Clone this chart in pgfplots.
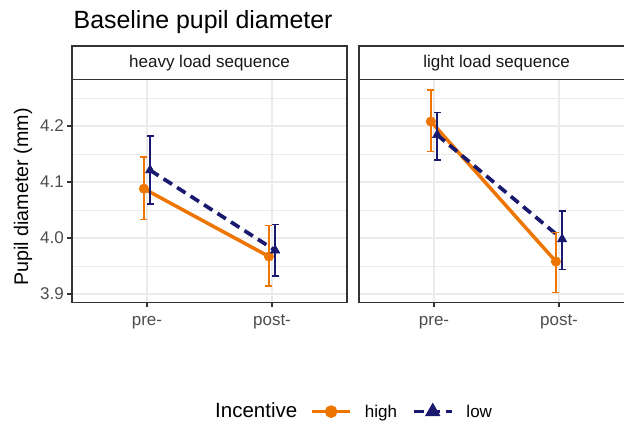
\documentclass[border=0pt]{standalone}
\usepackage{fontspec}
\setmainfont{Liberation Sans}
\usepackage{pgfplots}
\pgfplotsset{compat=1.18}

\definecolor{hiorange}{HTML}{EE7600}
\definecolor{lonavy}{HTML}{191970}
\definecolor{gridgray}{HTML}{EBEBEB}
\definecolor{bordergray}{HTML}{333333}
\definecolor{ticklab}{HTML}{4D4D4D}

\pgfplotsset{
  panel/.style={
    scale only axis, width=275pt, height=222.9pt,
    anchor=south west,
    xmin=0.4, xmax=2.6, ymin=3.885, ymax=4.283,
    xtick={1,2}, xticklabels={pre-,post-},
    ytick={3.9,4.0,4.1,4.2},
    minor ytick={3.85,3.95,4.05,4.15,4.25},
    grid=both,
    major grid style={draw=gridgray, line width=1.6pt},
    minor grid style={draw=gridgray, line width=0.8pt},
    axis line style={draw=bordergray, line width=1.3pt},
    tick align=outside, major tick length=4.5pt, minor tick length=0pt,
    tick style={draw=bordergray, line width=1.1pt},
    xtick pos=left, ytick pos=left,
    ticklabel style={font=\fontsize{17}{20}\selectfont, text=ticklab, inner sep=2pt},
    xticklabel style={yshift=-9pt, text height=0.72em, text depth=0.21em},
    /pgf/number format/assume math mode=true,
    yticklabel style={xshift=-1.5pt, /pgf/number format/.cd, fixed, fixed zerofill, precision=1},
    clip=false,
  },
  hiline/.style={hiorange, line width=3.5pt, no markers},
  loline/.style={lonavy, line width=3.7pt, dash pattern=on 10pt off 6pt, no markers},
  hipts/.style={hiorange, only marks, mark=*, mark size=4.8pt,
    error bars/.cd, y dir=both, y explicit,
    error bar style={line width=1.5pt, solid},
    error mark options={rotate=90, hiorange, mark size=3.5pt, line width=1.5pt}},
  lopts/.style={lonavy, only marks, mark=triangle*, mark size=5.5pt,
    error bars/.cd, y dir=both, y explicit,
    error bar style={line width=1.5pt, solid},
    error mark options={rotate=90, lonavy, mark size=3.5pt, line width=1.5pt}},
}

\begin{document}
\begin{tikzpicture}[x=1pt, y=1pt]
\path[use as bounding box, clip] (0,0) rectangle (624,421);

% heavy load panel
\begin{axis}[panel, at={(72pt,118.6pt)},
  legend style={at={(0.866,-0.49)}, anchor=west, draw=none, fill=none,
    legend columns=-1, inner sep=0pt,
    font=\fontsize{17}{20}\selectfont,
    /tikz/every odd column/.append style={column sep=11pt},
    /tikz/every even column/.append style={column sep=13pt}},
  legend image code/.code={%
    \draw[mark repeat=2, mark phase=2, #1] plot coordinates {(0pt,0pt) (19pt,0pt) (38pt,0pt)};}
]
\addlegendimage{hiorange, line width=3.5pt, mark=*, mark size=4.5pt, mark options={solid}}
\addlegendentry{high}
\addlegendimage{lonavy, line width=3.5pt, dash pattern=on 10pt off 6pt, mark=triangle*, mark size=5.5pt, mark options={solid}}
\addlegendentry{low}
\addplot[hiline] coordinates {(0.975,4.088) (1.975,3.967)};
\addplot[loline] coordinates {(1.025,4.121) (2.025,3.978)};
\addplot[hipts] coordinates {
  (0.975,4.088) += (0,0.057) -= (0,0.055)
  (1.975,3.967) += (0,0.055) -= (0,0.053)
};
\addplot[lopts] coordinates {
  (1.025,4.121) += (0,0.061) -= (0,0.060)
  (2.025,3.978) += (0,0.046) -= (0,0.046)
};
\end{axis}

% light load panel
\begin{axis}[panel, at={(359pt,118.6pt)},
  yticklabels={}, ytick style={draw=none}]
\addplot[hiline] coordinates {(0.975,4.208) (1.975,3.958)};
\addplot[loline] coordinates {(1.025,4.184) (2.025,3.998)};
\addplot[hipts] coordinates {
  (0.975,4.208) += (0,0.056) -= (0,0.054)
  (1.975,3.958) += (0,0.052) -= (0,0.055)
};
\addplot[lopts] coordinates {
  (1.025,4.184) += (0,0.040) -= (0,0.045)
  (2.025,3.998) += (0,0.050) -= (0,0.054)
};
\end{axis}

% facet strips
\draw[bordergray, line width=1.3pt, fill=white] (72,341.4) rectangle (347,375);
\draw[bordergray, line width=1.3pt, fill=white] (359,341.4) rectangle (634,375);
\node[font=\fontsize{17}{20}\selectfont, text=black!90] at (209.5,358) {heavy load sequence};
\node[font=\fontsize{17}{20}\selectfont, text=black!90] at (496.5,358) {light load sequence};

% titles
\node[anchor=base west, inner sep=0pt, font=\fontsize{24.9}{29}\selectfont] at (73.5,392.5) {Baseline pupil diameter};
\node[rotate=90, font=\fontsize{19.7}{23}\selectfont] at (23,224) {Pupil diameter (mm)};
\node[anchor=base west, inner sep=0pt, font=\fontsize{20.5}{24}\selectfont] at (215,4) {Incentive};
\end{tikzpicture}
\end{document}
